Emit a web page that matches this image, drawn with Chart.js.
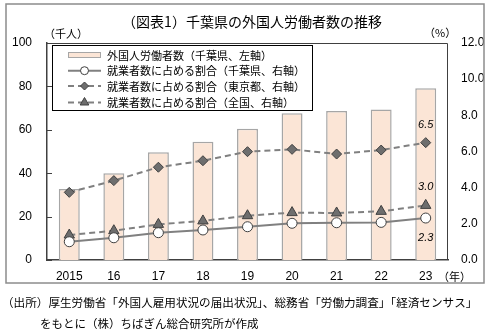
<!DOCTYPE html>
<html>
<head>
<meta charset="utf-8">
<script src="https://cdn.jsdelivr.net/npm/chart.js@4"></script>
<style>body{margin:0;background:#fff}</style>
</head>
<body>
<canvas id="myChart" width="493" height="335"></canvas>
<script>
// data
var years = ['2015', '16', '17', '18', '19', '20', '21', '22', '23'];
var workersChiba = [32.7, 40.0, 49.6, 54.5, 60.5, 67.6, 68.7, 69.4, 79.1];
var shareChiba = [1.01, 1.23, 1.51, 1.66, 1.84, 2.03, 2.06, 2.08, 2.32];
var shareTokyo = [3.74, 4.39, 5.13, 5.49, 5.99, 6.12, 5.86, 6.08, 6.49];
var shareJapan = [1.38, 1.62, 1.97, 2.16, 2.45, 2.62, 2.60, 2.69, 3.02];
var leftTicks = [0, 20, 40, 60, 80, 100];
var seriesNames = [
    '外国人労働者数（千葉県、左軸）',
    '就業者数に占める割合（千葉県、右軸）',
    '就業者数に占める割合（東京都、右軸）',
    '就業者数に占める割合（全国、右軸）'
];
var lastLabels = ['2.3', '6.5', '3.0'];

var JP = '"Noto Sans CJK JP", sans-serif';
var NUM = '"Liberation Sans", Arial, sans-serif';

var extras = {
    id: 'extras',
    beforeDraw: function (chart) {
        var ctx = chart.ctx;
        ctx.save();
        ctx.fillStyle = '#fff';
        ctx.fillRect(0, 0, chart.width, chart.height);
        ctx.restore();
    },
    afterDraw: function (chart) {
        var ctx = chart.ctx;
        var a = chart.chartArea;
        ctx.save();

        // outer frame
        ctx.strokeStyle = '#8c8c8c';
        ctx.lineWidth = 1.5;
        ctx.strokeRect(6, 4, 478, 279);

        // plot top / right border
        ctx.strokeStyle = '#404040';
        ctx.lineWidth = 1;
        ctx.beginPath();
        ctx.moveTo(a.left, a.top + 0.5);
        ctx.lineTo(a.right - 0.5, a.top + 0.5);
        ctx.lineTo(a.right - 0.5, a.bottom);
        ctx.stroke();

        // inward ticks on left axis
        var ys = chart.scales.y;
        ctx.beginPath();
        leftTicks.forEach(function (v) {
            var py = Math.round(ys.getPixelForValue(v)) + 0.5;
            ctx.moveTo(a.left, py);
            ctx.lineTo(a.left + 5, py);
        });
        ctx.stroke();

        // title
        ctx.fillStyle = '#000';
        ctx.font = '14px ' + JP;
        ctx.textAlign = 'center';
        ctx.textBaseline = 'middle';
        ctx.fillText('（図表1）千葉県の外国人労働者数の推移', 252, 22);

        // units
        ctx.font = '11px ' + JP;
        ctx.textAlign = 'left';
        ctx.fillText('（千人）', 44, 34);
        ctx.fillText('（%）', 424, 33);
        ctx.fillText('（年）', 438, 277);

        // legend
        var lx = 52, ly = 45, lw = 260, lh = 65;
        ctx.fillStyle = '#fff';
        ctx.fillRect(lx, ly, lw, lh);
        ctx.strokeStyle = '#000';
        ctx.lineWidth = 1;
        ctx.strokeRect(lx + 0.5, ly + 0.5, lw, lh);
        var rows = [55, 70.7, 86, 102.5];
        var ds = chart.data.datasets;
        for (var i = 0; i < 4; i++) {
            var ry = rows[i];
            var d = ds[i];
            if (i === 0) {
                ctx.fillStyle = d.backgroundColor;
                ctx.fillRect(68, ry - 3, 33, 6);
                ctx.strokeStyle = d.borderColor;
                ctx.lineWidth = 1;
                ctx.strokeRect(68.5, ry - 2.5, 32, 5);
            } else {
                ctx.strokeStyle = d.borderColor;
                ctx.lineWidth = 2;
                ctx.setLineDash(d.borderDash || []);
                ctx.beginPath();
                ctx.moveTo(68, ry);
                ctx.lineTo(101, ry);
                ctx.stroke();
                ctx.setLineDash([]);
                ctx.fillStyle = d.pointBackgroundColor;
                ctx.strokeStyle = d.pointBorderColor;
                ctx.lineWidth = 1;
                Chart.helpers.drawPoint(ctx, {
                    pointStyle: d.pointStyle,
                    radius: d.pointRadius - 1,
                    rotation: 0,
                    borderWidth: 1
                }, 84.5, ry);
            }
            ctx.fillStyle = '#000';
            ctx.font = '11px ' + JP;
            ctx.textAlign = 'left';
            ctx.textBaseline = 'middle';
            ctx.fillText(seriesNames[i], 107, ry + 0.5);
        }

        // value labels on last point
        var n = years.length - 1;
        ctx.font = 'italic 11px ' + NUM;
        ctx.textAlign = 'center';
        ctx.fillStyle = '#000';
        var pc = chart.getDatasetMeta(1).data[n];
        var pt = chart.getDatasetMeta(2).data[n];
        var pj = chart.getDatasetMeta(3).data[n];
        ctx.fillText(lastLabels[0], pc.x, pc.y + 20);
        ctx.fillText(lastLabels[1], pt.x, pt.y - 18);
        ctx.fillText(lastLabels[2], pj.x, pj.y - 18);

        // source note
        ctx.font = '11.6px ' + JP;
        ctx.textAlign = 'left';
        ctx.fillText('（出所）厚生労働省「外国人雇用状況の届出状況」、総務省「労働力調査」「経済センサス」', 2, 303);
        ctx.font = '11.5px ' + JP;
        ctx.fillText('をもとに（株）ちばぎん総合研究所が作成', 40, 324);

        ctx.restore();
    }
};

new Chart('myChart', {
    type: 'bar',
    data: {
        labels: years,
        datasets: [{
            label: seriesNames[0],
            data: workersChiba,
            yAxisID: 'y',
            backgroundColor: '#fbe5d6',
            borderColor: '#a6a6a6',
            borderWidth: 1.5,
            barPercentage: 1,
            categoryPercentage: 0.47,
            order: 10
        }, {
            type: 'line',
            label: seriesNames[1],
            data: shareChiba,
            yAxisID: 'y2',
            borderColor: '#808080',
            borderWidth: 2,
            pointStyle: 'circle',
            pointRadius: 5,
            pointBackgroundColor: '#fff',
            pointBorderColor: '#404040',
            pointBorderWidth: 1,
            order: 1
        }, {
            type: 'line',
            label: seriesNames[2],
            data: shareTokyo,
            yAxisID: 'y2',
            borderColor: '#808080',
            borderWidth: 2,
            borderDash: [6, 4],
            pointStyle: 'rectRot',
            pointRadius: 5,
            pointBackgroundColor: '#6e6e6e',
            pointBorderColor: '#404040',
            pointBorderWidth: 1,
            order: 2
        }, {
            type: 'line',
            label: seriesNames[3],
            data: shareJapan,
            yAxisID: 'y2',
            borderColor: '#808080',
            borderWidth: 2,
            borderDash: [6, 4],
            pointStyle: 'triangle',
            pointRadius: 6,
            pointBackgroundColor: '#6e6e6e',
            pointBorderColor: '#404040',
            pointBorderWidth: 1,
            order: 3
        }]
    },
    options: {
        responsive: false,
        animation: false,
        layout: { padding: { top: 43, left: 0, right: 0, bottom: 0 } },
        plugins: {
            legend: { display: false },
            title: { display: false },
            tooltip: { enabled: false }
        },
        scales: {
            x: {
                grid: { display: false, drawTicks: false },
                border: { display: true, color: '#404040', width: 1.5 },
                ticks: { color: '#000', font: { family: NUM, size: 12 }, padding: 9 },
                afterFit: function (s) { s.height = 75; }
            },
            y: {
                position: 'left',
                min: 0,
                max: 100,
                grid: { display: false, drawTicks: false },
                border: { display: true, color: '#404040', width: 1.5 },
                ticks: { stepSize: 20, color: '#000', font: { family: NUM, size: 12 }, padding: 15 },
                afterFit: function (s) { s.width = 47; }
            },
            y2: {
                position: 'right',
                min: 0,
                max: 12,
                grid: { display: false, drawTicks: false },
                border: { display: false },
                ticks: {
                    stepSize: 2, color: '#000', font: { family: NUM, size: 12 }, padding: 13,
                    callback: function (v) { return v.toFixed(1); }
                },
                afterFit: function (s) { s.width = 45; }
            }
        }
    },
    plugins: [extras]
});
</script>
</body>
</html>
